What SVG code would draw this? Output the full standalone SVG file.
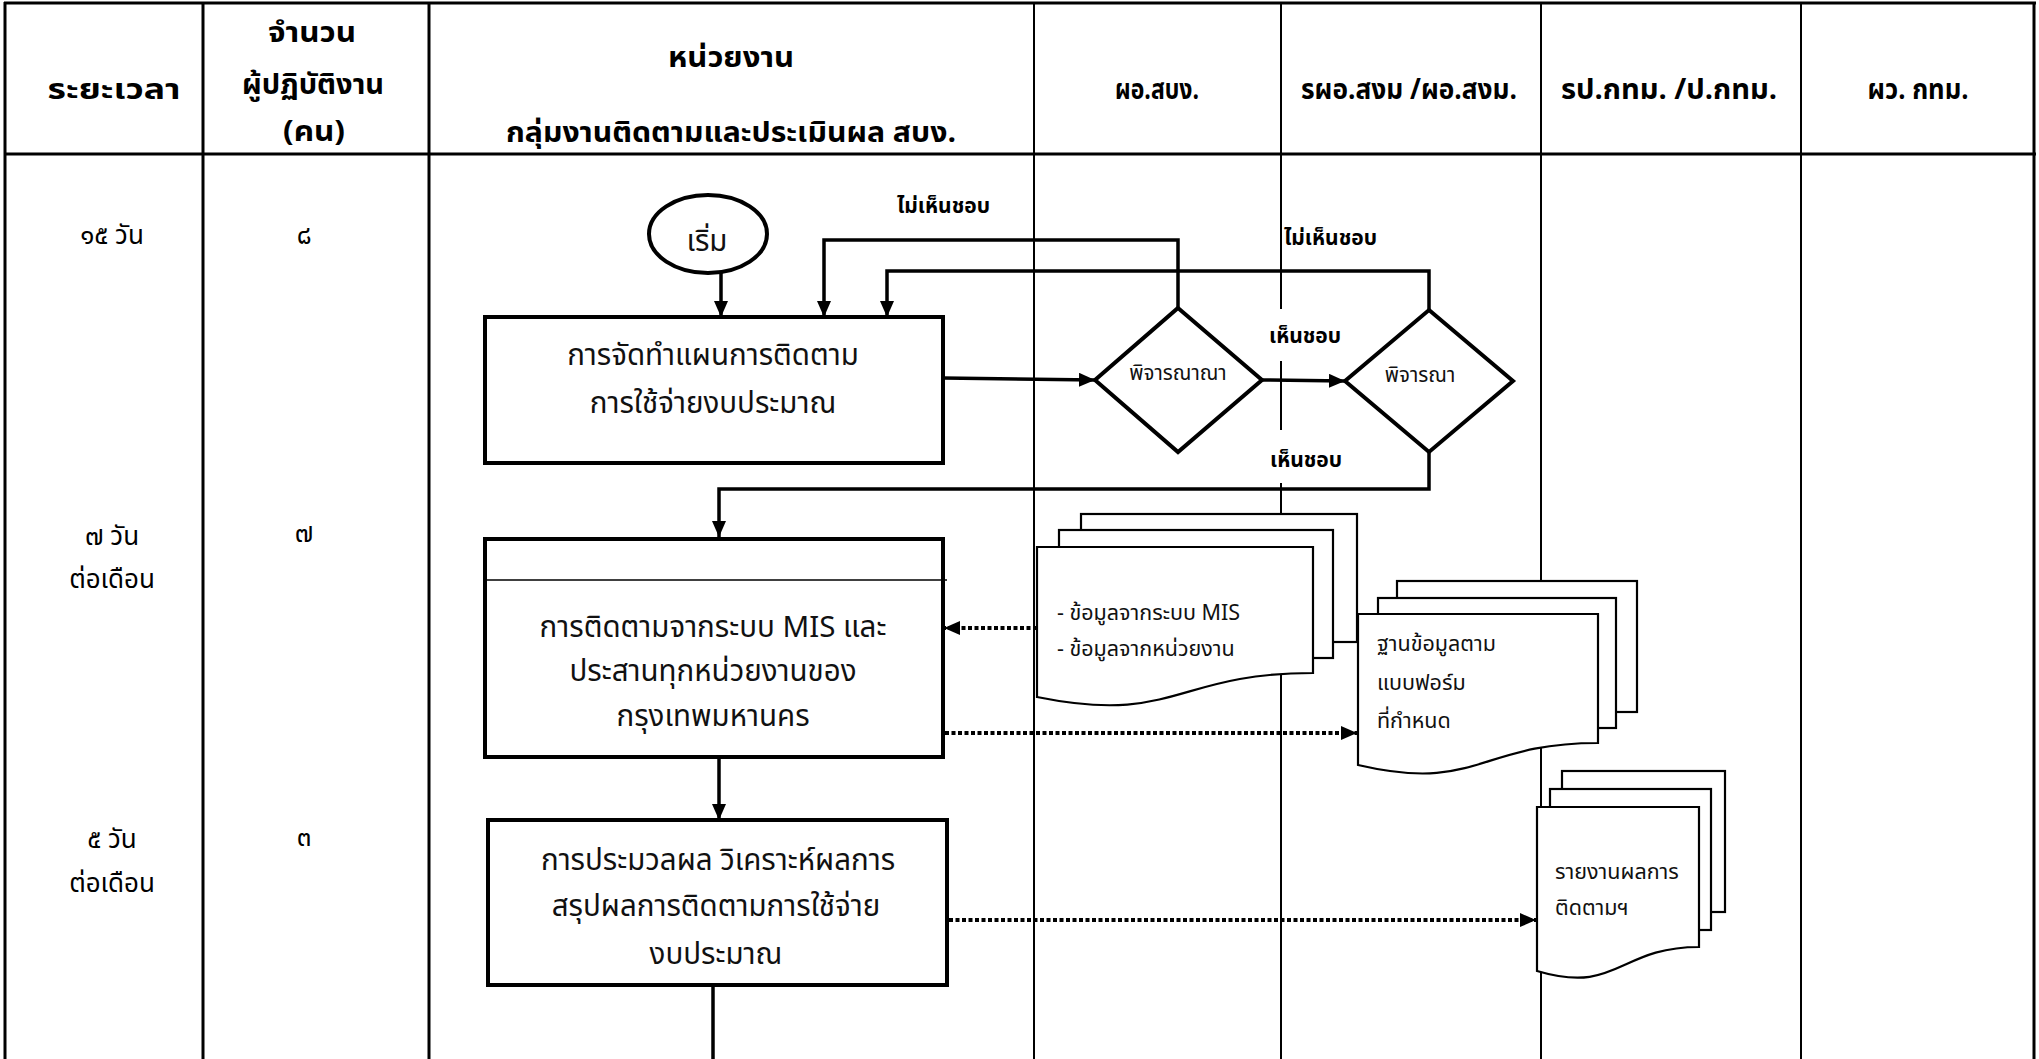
<svg xmlns="http://www.w3.org/2000/svg" width="2039" height="1059" viewBox="0 0 2039 1059">
  <style>
    .grid { stroke: #000; fill: none; }
    .thick { stroke-width: 3; }
    .thin { stroke-width: 2; }
    .hdr { font-family: 'Noto Sans Thai', 'Noto Sans', 'DejaVu Sans', sans-serif; font-weight: bold; font-size: 29px; fill: #000; text-anchor: middle; }
    .cell { font-family: 'Noto Sans Thai', 'Noto Sans', 'DejaVu Sans', sans-serif; font-size: 26px; fill: #000; text-anchor: middle; }
    .proc { fill: #fff; stroke: #000; stroke-width: 4; }
    .ptxt { font-family: 'Noto Sans Thai', 'Noto Sans', 'DejaVu Sans', sans-serif; font-size: 29.5px; fill: #111; text-anchor: middle; }
    .dtxt { font-family: 'Noto Sans Thai', 'Noto Sans', 'DejaVu Sans', sans-serif; font-size: 21.5px; fill: #111; }
    .qtxt { font-family: 'Noto Sans Thai', 'Noto Sans', 'DejaVu Sans', sans-serif; font-size: 20.5px; fill: #111; text-anchor: middle; }
    .lbl { font-family: 'Noto Sans Thai', 'Noto Sans', 'DejaVu Sans', sans-serif; font-weight: bold; font-size: 21px; fill: #000; }
    .doc { fill: #fff; stroke: #000; stroke-width: 2.2; }
    .flow { fill: none; stroke: #000; stroke-width: 3.5; }
    .dot { fill: none; stroke: #000; stroke-width: 4; stroke-dasharray: 4 2.5; }
  </style>
  <defs>
    <marker id="arrow" markerUnits="userSpaceOnUse" markerWidth="16" markerHeight="14" refX="16" refY="7" orient="auto">
      <path d="M0,0 L16,7 L0,14 z" fill="#000"/>
    </marker>
  </defs>

  <rect x="0" y="0" width="2039" height="1059" fill="#fff"/>

  <!-- table grid -->
  <g id="table">
    <line class="grid thick" x1="4" y1="3" x2="2036" y2="3"/>
    <line class="grid thick" x1="4" y1="154" x2="2036" y2="154"/>
    <line class="grid thick" x1="5" y1="2" x2="5" y2="1059"/>
    <line class="grid thick" x1="2034" y1="2" x2="2034" y2="1059"/>
    <line class="grid thick" x1="203" y1="3" x2="203" y2="1059"/>
    <line class="grid thick" x1="429" y1="3" x2="429" y2="1059"/>
    <line class="grid thin" x1="1034" y1="3" x2="1034" y2="1059"/>
    <line class="grid thin" x1="1281" y1="3" x2="1281" y2="1059"/>
    <line class="grid thin" x1="1541" y1="3" x2="1541" y2="1059"/>
    <line class="grid thin" x1="1801" y1="3" x2="1801" y2="1059"/>
  </g>

  <!-- column headings -->
  <g id="headings">
    <text class="hdr" x="114" y="99" textLength="133" lengthAdjust="spacingAndGlyphs">ระยะเวลา</text>
    <text class="hdr" x="312" y="42" textLength="88" lengthAdjust="spacingAndGlyphs">จำนวน</text>
    <text class="hdr" x="313" y="94" textLength="142" lengthAdjust="spacingAndGlyphs">ผู้ปฏิบัติงาน</text>
    <text class="hdr" x="314" y="141" textLength="62" lengthAdjust="spacingAndGlyphs">(คน)</text>
    <text class="hdr" x="731" y="67" textLength="126" lengthAdjust="spacingAndGlyphs">หน่วยงาน</text>
    <text class="hdr" x="731" y="142" textLength="450" lengthAdjust="spacingAndGlyphs">กลุ่มงานติดตามและประเมินผล  สบง.</text>
    <text class="hdr" x="1157" y="99" textLength="84" lengthAdjust="spacingAndGlyphs">ผอ.สบง.</text>
    <text class="hdr" x="1409" y="99" textLength="216" lengthAdjust="spacingAndGlyphs">รผอ.สงม /ผอ.สงม.</text>
    <text class="hdr" x="1669" y="99" textLength="216" lengthAdjust="spacingAndGlyphs">รป.กทม. /ป.กทม.</text>
    <text class="hdr" x="1918" y="99" textLength="101" lengthAdjust="spacingAndGlyphs">ผว. กทม.</text>
  </g>

  <!-- duration and staff per step -->
  <g id="rows">
    <text class="cell" x="112" y="244">๑๕ วัน</text>
    <text class="cell" x="304" y="244">๘</text>
    <text class="cell" x="112" y="545">๗ วัน</text>
    <text class="cell" x="112" y="588">ต่อเดือน</text>
    <text class="cell" x="304" y="542">๗</text>
    <text class="cell" x="112" y="848">๕ วัน</text>
    <text class="cell" x="112" y="892">ต่อเดือน</text>
    <text class="cell" x="304" y="846">๓</text>
  </g>

  <!-- label backgrounds over the lane line -->
  <rect x="1264" y="309" width="86" height="52" fill="#fff"/>
  <rect x="1264" y="430" width="86" height="53" fill="#fff"/>

  <g id="start">
    <ellipse cx="708" cy="234" rx="59" ry="39" fill="#fff" stroke="#000" stroke-width="4"/>
    <text class="ptxt" x="707" y="251">เริ่ม</text>
  </g>

  <g id="plan">
    <rect class="proc" x="485" y="317" width="458" height="146"/>
    <text class="ptxt" x="713" y="365">การจัดทำแผนการติดตาม</text>
    <text class="ptxt" x="713" y="413">การใช้จ่ายงบประมาณ</text>
  </g>

  <g id="review1">
    <polygon class="proc" points="1178,308 1262,380 1178,452 1095,380"/>
    <text class="qtxt" x="1178" y="380">พิจารณาณา</text>
  </g>

  <g id="review2">
    <polygon class="proc" points="1429,310 1513,381 1429,452 1345,381"/>
    <text class="qtxt" x="1420" y="382">พิจารณา</text>
  </g>

  <g id="monitor">
    <rect class="proc" x="485" y="539" width="458" height="218"/>
    <line x1="485" y1="580" x2="947" y2="580" stroke="#000" stroke-width="1.5"/>
    <text class="ptxt" x="713" y="637">การติดตามจากระบบ MIS และ</text>
    <text class="ptxt" x="713" y="681">ประสานทุกหน่วยงานของ</text>
    <text class="ptxt" x="713" y="726">กรุงเทพมหานคร</text>
  </g>

  <g id="summary">
    <rect class="proc" x="488" y="820" width="459" height="165"/>
    <text class="ptxt" x="718" y="870">การประมวลผล วิเคราะห์ผลการ</text>
    <text class="ptxt" x="716" y="916">สรุปผลการติดตามการใช้จ่าย</text>
    <text class="ptxt" x="716" y="964">งบประมาณ</text>
  </g>

  <g id="source-data">
    <rect class="doc" x="1081" y="514" width="276" height="128"/>
    <rect class="doc" x="1059" y="530" width="274" height="128"/>
    <path class="doc" d="M1037,547 H1313 V673 C1175,673 1175,725 1037,697 Z"/>
    <text class="dtxt" x="1057" y="620">- ข้อมูลจากระบบ MIS</text>
    <text class="dtxt" x="1057" y="656">- ข้อมูลจากหน่วยงาน</text>
  </g>

  <g id="database">
    <rect class="doc" x="1397" y="581" width="240" height="131"/>
    <rect class="doc" x="1378" y="598" width="238" height="130"/>
    <path class="doc" d="M1358,614 H1598 V743 C1478,743 1478,793 1358,765 Z"/>
    <text class="dtxt" x="1377" y="651">ฐานข้อมูลตาม</text>
    <text class="dtxt" x="1377" y="690">แบบฟอร์ม</text>
    <text class="dtxt" x="1377" y="728">ที่กำหนด</text>
  </g>

  <g id="report">
    <rect class="doc" x="1562" y="771" width="163" height="141"/>
    <rect class="doc" x="1550" y="789" width="161" height="141"/>
    <path class="doc" d="M1537,807 H1699 V947 C1618,947 1618,995 1537,971 Z"/>
    <text class="dtxt" x="1555" y="879">รายงานผลการ</text>
    <text class="dtxt" x="1555" y="915">ติดตามฯ</text>
  </g>

  <g id="connectors">
    <path class="flow" d="M721,273 V317" marker-end="url(#arrow)"/>
    <path class="flow" d="M943,378 L1095,380" marker-end="url(#arrow)"/>
    <path class="flow" d="M1262,380 L1345,381" marker-end="url(#arrow)"/>
    <path class="flow" d="M1178,308 V240 H824 V317" marker-end="url(#arrow)"/>
    <path class="flow" d="M1429,310 V271 H887 V317" marker-end="url(#arrow)"/>
    <path class="flow" d="M1429,452 V489 H719 V537" marker-end="url(#arrow)"/>
    <path class="flow" d="M719,757 V820" marker-end="url(#arrow)"/>
    <path class="flow" d="M713,985 V1059"/>
    <path class="dot" d="M1037,628 H944" marker-end="url(#arrow)"/>
    <path class="dot" d="M945,733 H1357" marker-end="url(#arrow)"/>
    <path class="dot" d="M949,920 H1536" marker-end="url(#arrow)"/>
  </g>

  <g id="branch-labels">
    <text class="lbl" x="897" y="213">ไม่เห็นชอบ</text>
    <text class="lbl" x="1284" y="245">ไม่เห็นชอบ</text>
    <text class="lbl" x="1269" y="343">เห็นชอบ</text>
    <text class="lbl" x="1270" y="467">เห็นชอบ</text>
  </g>
</svg>
